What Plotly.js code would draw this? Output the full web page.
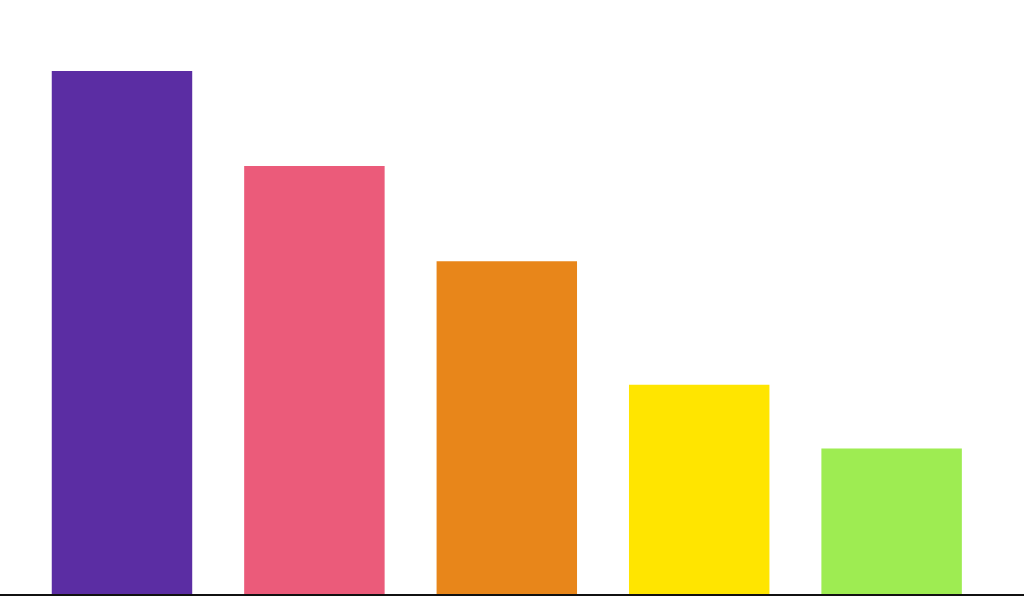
<!DOCTYPE html>
<html>
<head>
<meta charset="utf-8">
<script src="https://cdn.plot.ly/plotly-3.0.1.min.js"></script>
<style>html,body{margin:0;padding:0;background:#fff;}#chart{width:1024px;height:616px;}</style>
</head>
<body>
<div id="chart"></div>
<script>
const categories = ["A", "B", "C", "D", "E"];
const values = [55, 45, 35, 22, 15.3];
const colors = ["#5B2DA3", "#EB5B7A", "#E8861A", "#FFE500", "#9EEC52"];

Plotly.newPlot("chart", [{
  type: "bar",
  x: categories,
  y: values,
  marker: {color: colors, line: {width: 0}},
  hoverinfo: "none"
}], {
  width: 1024,
  height: 616,
  margin: {l: 0, r: 0, t: 0, b: 22, pad: 0},
  paper_bgcolor: "#fff",
  plot_bgcolor: "#fff",
  bargap: 0.27,
  showlegend: false,
  xaxis: {
    range: [-0.634, 4.688],
    showticklabels: false,
    ticks: "",
    showgrid: false,
    zeroline: false,
    showline: true,
    linecolor: "#111",
    linewidth: 2
  },
  yaxis: {
    range: [0, 62.46],
    showticklabels: false,
    ticks: "",
    showgrid: false,
    zeroline: false,
    showline: false
  }
}, {displayModeBar: false, staticPlot: true});
</script>
</body>
</html>
